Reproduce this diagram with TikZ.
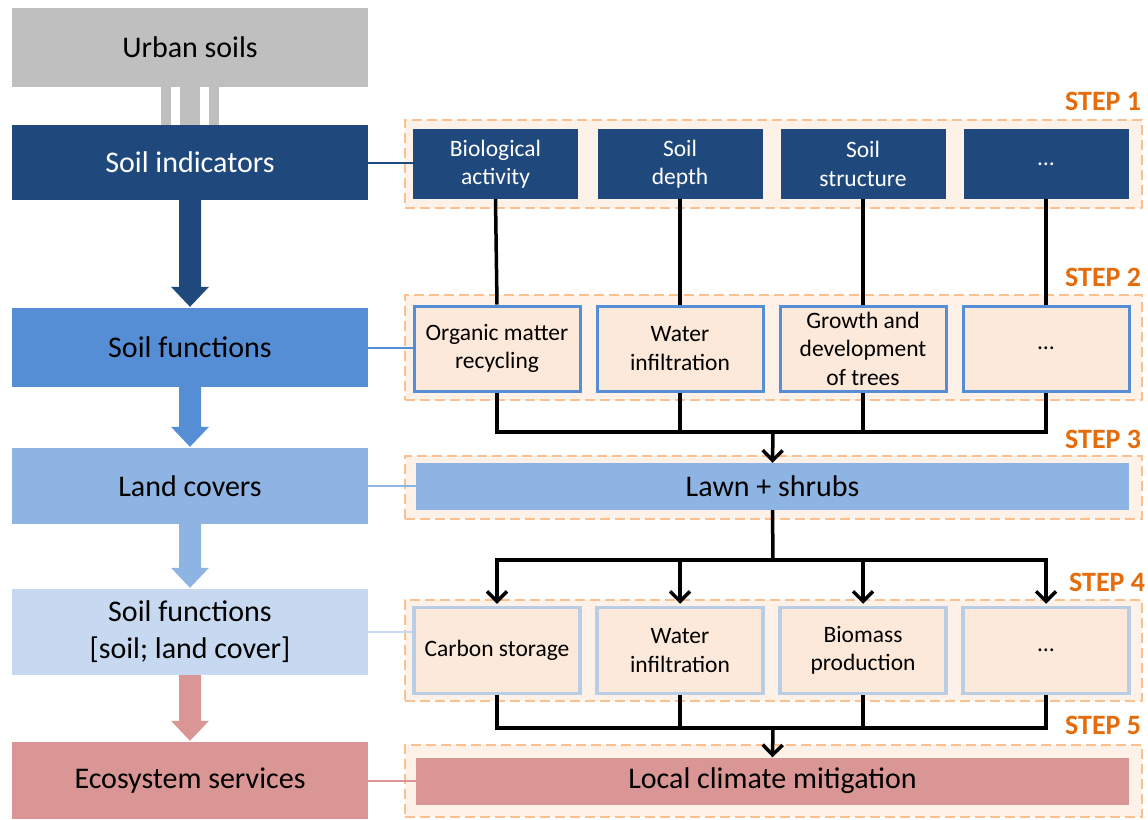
\documentclass[tikz,border=0pt]{standalone}
\usepackage{fontspec}
\setmainfont{Carlito}
\usetikzlibrary{arrows.meta}
\definecolor{soilgray}{HTML}{BFBFBF}
\definecolor{indblue}{HTML}{1F497D}
\definecolor{funblue}{HTML}{558ED5}
\definecolor{covblue}{HTML}{8EB4E3}
\definecolor{lcblue}{HTML}{C6D9F1}
\definecolor{serpink}{HTML}{D99694}
\definecolor{stepor}{HTML}{E46C0A}
\definecolor{frameor}{HTML}{FAC090}
\definecolor{framefill}{HTML}{FEF2E8}
\definecolor{boxfill}{HTML}{FDE9D9}
\definecolor{boxline}{HTML}{B9CDE5}
\tikzstyle{Level}=[rectangle, minimum width=356, minimum height=76, align=center, inner sep=0, font=\fontsize{30}{37}\selectfont]
\tikzstyle{Frame}=[rectangle, draw=frameor, fill=framefill, line width=2.5, dash pattern=on 10pt off 5pt, minimum width=737]
\tikzstyle{Ind}=[rectangle, fill=indblue, text=white, minimum width=165, minimum height=70, align=center, inner sep=0, font=\fontsize{23.5}{28.5}\selectfont]
\tikzstyle{Fun}=[rectangle, draw=funblue, line width=3, fill=boxfill, minimum width=166, minimum height=85, align=center, inner sep=0, font=\fontsize{23.5}{28.5}\selectfont]
\tikzstyle{Fln}=[rectangle, draw=boxline, line width=3.5, fill=boxfill, minimum width=166, minimum height=86, align=center, inner sep=0, font=\fontsize{23.5}{28.5}\selectfont]
\tikzstyle{Wide}=[rectangle, minimum width=713, minimum height=47, inner sep=0, font=\fontsize{30}{36}\selectfont]
\tikzstyle{Step}=[anchor=base east, text=stepor, inner sep=0, font=\bfseries\fontsize{28}{34}\selectfont]
\tikzstyle{Wire}=[black, line width=3.5]
\tikzstyle{Feed}=[black, line width=3.5, -{Straight Barb[length=10pt,width=20pt]}]
\newcommand{\fatarrow}[3]{%
  \fill[#3] ([xshift=-11pt]#1.south) -- ([xshift=11pt]#1.south)
    -- ([xshift=11pt,yshift=21pt]#2.north) -- ([xshift=19pt,yshift=21pt]#2.north)
    -- ([yshift=1pt]#2.north) -- ([xshift=-19pt,yshift=21pt]#2.north)
    -- ([xshift=-11pt,yshift=21pt]#2.north) -- cycle;}

\begin{document}
\begin{tikzpicture}[x=1pt, y=-1pt]
    \useasboundingbox (0,0) rectangle (1148,819);

    % left column
    \path
    (190,47.5) node[Level, fill=soilgray, minimum height=79] (urban) {Urban soils}
    (190,162.5) node[Level, fill=indblue, text=white, minimum height=75] (indic) {Soil indicators}
    (190,347.5) node[Level, fill=funblue, minimum height=79] (func) {Soil functions}
    (190,486) node[Level, fill=covblue] (cover) {Land covers}
    (190,632) node[Level, fill=lcblue, minimum height=86] (funclc) {Soil functions\\{[}soil; land cover]}
    (190,780.5) node[Level, fill=serpink, minimum height=77] (ecos) {Ecosystem services};

    \fill[soilgray] ([xshift=-29pt]urban.south) rectangle ([xshift=-19pt]indic.north);
    \fill[soilgray] ([xshift=-10pt]urban.south) rectangle ([xshift=10pt]indic.north);
    \fill[soilgray] ([xshift=19pt]urban.south) rectangle ([xshift=29pt]indic.north);

    \fatarrow{indic}{func}{indblue}
    \fatarrow{func}{cover}{funblue}
    \fatarrow{cover}{funclc}{covblue}
    \fatarrow{funclc}{ecos}{serpink}

    % step frames
    \path
    (773.5,164) node[Frame, minimum height=88] (frame1) {}
    (773.5,347.5) node[Frame, minimum height=105] (frame2) {}
    (773.5,487.5) node[Frame, minimum height=63] (frame3) {}
    (773.5,650.5) node[Frame, minimum height=101] (frame4) {}
    (773.5,781) node[Frame, minimum height=72] (frame5) {};

    \node[Step] (lab1) at ([xshift=-2pt,yshift=8pt]frame1.north east) {STEP 1};
    \node[Step] (lab2) at ([xshift=-2pt,yshift=7pt]frame2.north east) {STEP 2};
    \node[Step] (lab3) at ([xshift=-2pt,yshift=6pt]frame3.north east) {STEP 3};
    \node[Step] (lab4) at ([xshift=2pt,yshift=7pt]frame4.north east) {STEP 4};
    \node[Step] (lab5) at ([xshift=-2pt,yshift=9pt]frame5.north east) {STEP 5};

    \path
    (495.5,164) node[Ind] (bio) {Biological\\activity}
    (680,164) node[Ind] (depth) {Soil\\depth}
    (863,164) node[Ind] (struct) {Soil\\structure}
    (1046,164) node[Ind] (more1) {\dots};

    \path
    (497,348.5) node[Fun] (omr) {Organic matter\\recycling}
    (680,348.5) node[Fun] (infil) {Water\\infiltration}
    (863,348.5) node[Fun] (growth) {Growth and\\development\\of trees}
    (1046,348.5) node[Fun] (more2) {\dots};

    \node[Wide, fill=covblue] (lawn) at (772.5,486.5) {Lawn + shrubs};

    \path
    (497,650.5) node[Fln] (carbon) {Carbon storage}
    (680,650.5) node[Fln] (infil4) {Water\\infiltration}
    (863,650.5) node[Fln] (biomass) {Biomass\\production}
    (1046,650.5) node[Fln] (more4) {\dots};

    \node[Wide, fill=serpink] (climate) at (772.5,781) {Local climate mitigation};

    % links from the left column
    \draw[indblue, line width=2] (indic.east) -- (indic.east -| bio.west);
    \draw[funblue, line width=2] (func.east) -- (func.east -| omr.west);
    \draw[covblue, line width=2] (cover.east) -- (cover.east -| lawn.west);
    \draw[lcblue, line width=2] (funclc.east) -- (funclc.east -| carbon.west);
    \draw[serpink, line width=2] (ecos.east) -- (ecos.east -| climate.west);

    % black wiring
    \foreach \a/\b in {bio/omr, depth/infil, struct/growth, more1/more2}
        \draw[Wire] (\a.south) -- (\b.north);
    \coordinate (join2) at (773,432);
    \draw[Wire] (omr.south) |- (join2) -| (more2.south);
    \draw[Wire] (infil.south) -- (infil.south |- join2);
    \draw[Wire] (growth.south) -- (growth.south |- join2);
    \draw[Feed] (join2) -- (lawn.north);

    \coordinate (join3) at (773,560);
    \draw[Wire] (lawn.south) -- (join3);
    \foreach \b in {carbon, infil4, biomass, more4}
        \draw[Feed] (join3) -| ([yshift=2pt]\b.north);

    \coordinate (join4) at (773,728);
    \draw[Wire] (carbon.south) |- (join4) -| (more4.south);
    \draw[Wire] (infil4.south) -- (infil4.south |- join4);
    \draw[Wire] (biomass.south) -- (biomass.south |- join4);
    \draw[Feed] (join4) -- (climate.north);
\end{tikzpicture}
\end{document}
